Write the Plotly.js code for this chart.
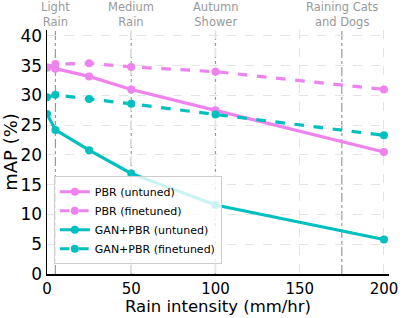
<!DOCTYPE html>
<html><head><meta charset="utf-8">
<script src="https://cdn.plot.ly/plotly-3.0.1.min.js"></script>
<style>body{margin:0;padding:0;background:#fff}#chart{width:403px;height:318px}</style>
</head><body><div id="chart"></div>
<script>
const rainX = [0, 5, 25, 50, 100, 200];
const pbrUntuned = [34.7, 34.5, 33.2, 31.0, 27.5, 20.5];
const pbrFinetuned = [34.7, 35.3, 35.4, 34.8, 34.0, 31.0];
const ganUntuned = [26.9, 24.2, 20.8, 16.9, 11.6, 5.8];
const ganFinetuned = [29.7, 30.1, 29.4, 28.6, 26.8, 23.3];
const seriesNames = ["PBR (untuned)", "PBR (finetuned)", "GAN+PBR (untuned)", "GAN+PBR (finetuned)"];
const regimeX = [5, 50, 100, 175];
const regimeLabels = ["Light<br>Rain", "Medium<br>Rain", "Autumn<br>Shower", "Raining Cats<br>and Dogs"];
const xTicks = [0, 50, 100, 150, 200];
const yTicks = [0, 5, 10, 15, 20, 25, 30, 35, 40];

const violet = "#ee82ee", teal = "#00bfbf";
function tr(y, name, color, dash) {
  return {x: rainX, y: y, name: name, type: "scatter", mode: "lines+markers",
    line: {color: color, width: 3.2, dash: dash}, marker: {color: color, size: 8}};
}
const data = [
  tr(pbrUntuned, seriesNames[0], violet, "solid"),
  tr(pbrFinetuned, seriesNames[1], violet, "dash"),
  tr(ganUntuned, seriesNames[2], teal, "solid"),
  tr(ganFinetuned, seriesNames[3], teal, "dash")
];
const font = "DejaVu Sans, sans-serif";
const layout = {
  width: 403, height: 318,
  margin: {l: 47, r: 14, t: 30, b: 44},
  paper_bgcolor: "#fff", plot_bgcolor: "#fff",
  font: {family: font, color: "#000"},
  showlegend: true,
  legend: {x: 0.02, y: 0.04, xanchor: "left", yanchor: "bottom",
    bgcolor: "rgba(255,255,255,0.8)", bordercolor: "#ccc", borderwidth: 1,
    itemwidth: 30,
    font: {family: font, size: 11, color: "#000"}, tracegroupgap: 0},
  xaxis: {range: [0, 203], tickvals: xTicks, ticktext: xTicks.map(String),
    showline: true, linecolor: "#000", linewidth: 1.5, mirror: false,
    showgrid: true, gridcolor: "#e4e4e4", griddash: "dash", gridwidth: 1,
    zeroline: false, ticks: "", tickfont: {size: 15, family: font},
    title: {text: "Rain intensity (mm/hr)", font: {size: 16.5, family: font}, standoff: 0}},
  yaxis: {range: [0, 41], tickvals: yTicks, ticktext: yTicks.map(String),
    showline: true, linecolor: "#000", linewidth: 1.5,
    showgrid: true, gridcolor: "#e4e4e4", griddash: "dash", gridwidth: 1,
    zeroline: false, ticks: "", tickfont: {size: 17, family: font},
    title: {text: "mAP (%)", font: {size: 18, family: font}, standoff: 2}},
  shapes: regimeX.map(v => ({type: "line", xref: "x", yref: "paper", x0: v, x1: v, y0: 0, y1: 1,
    line: {color: "#999", width: 1.2, dash: "dashdot"}, layer: "below"})),
  annotations: regimeX.map((v, i) => ({x: v, xref: "x", yref: "paper", y: 1, yanchor: "bottom",
    yshift: 0, borderpad: 0, text: regimeLabels[i], showarrow: false,
    font: {family: font, size: 11.5, color: "#999"}}))
};
Plotly.newPlot("chart", data, layout, {displayModeBar: false, staticPlot: true});
</script></body></html>
